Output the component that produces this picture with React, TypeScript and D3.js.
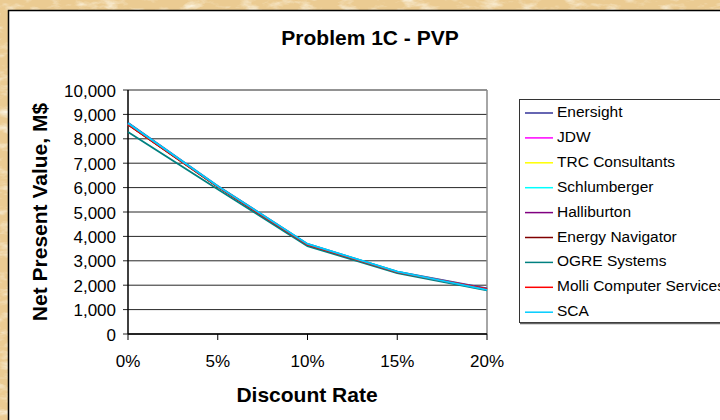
import React from "react";
import * as d3 from "d3";

const rates = [0, 0.05, 0.1, 0.15, 0.2];
const yTicks = [0, 1000, 2000, 3000, 4000, 5000, 6000, 7000, 8000, 9000, 10000];
const xTickLabels = ["0%", "5%", "10%", "15%", "20%"];
const seriesNames = ["Enersight", "JDW", "TRC Consultants", "Schlumberger", "Halliburton", "Energy Navigator", "OGRE Systems", "Molli Computer Services", "SCA"];
const seriesColors = ["#333399", "#FF00FF", "#FFFF00", "#00FFFF", "#800080", "#800000", "#008080", "#FF0000", "#00CCFF"];
const enersight = [8660, 6070, 3690, 2560, 1870];
const jdw = [8600, 6040, 3660, 2540, 1840];
const trc = [8590, 6030, 3650, 2530, 1830];
const schlumberger = [8630, 6060, 3680, 2560, 1830];
const halliburton = [8600, 6040, 3660, 2540, 1840];
const energyNavigator = [8590, 6030, 3650, 2530, 1830];
const ogre = [8280, 5930, 3600, 2500, 1790];
const molli = [8600, 6040, 3660, 2540, 1840];
const sca = [8640, 6060, 3690, 2560, 1810];
const seriesValues = [enersight, jdw, trc, schlumberger, halliburton, energyNavigator, ogre, molli, sca];

const W = 720, H = 420;
const font = "Liberation Sans, Arial, sans-serif";

export default function App() {
  const x = d3.scaleLinear().domain([0, 0.2]).range([128, 487]);
  const y = d3.scaleLinear().domain([0, 10000]).range([334, 90]);
  const line = d3.line<number>().x((_, i) => x(rates[i])).y((v) => y(v));
  return (
    <svg width={W} height={H} style={{ position: "absolute", left: 0, top: 0 }}>
      <defs>
        <filter id="paper" x="0" y="0" width="100%" height="100%">
          <feTurbulence type="fractalNoise" baseFrequency="0.05 0.12" numOctaves="4" seed="7" result="n" />
          <feColorMatrix in="n" type="matrix" values="0 0 0 0 0.98  0 0 0 0 0.93  0 0 0 0 0.80  -2.5 0 0 0 1.3" />
        </filter>
      </defs>
      <rect x={0} y={0} width={W} height={H} fill="#EBCB92" />
      <rect x={0} y={0} width={W} height={H} filter="url(#paper)" opacity={0.9} />
      <rect x={8.5} y={10.5} width={W} height={H} fill="#fff" stroke="#000" strokeWidth={1.5} />
      <text x={370} y={45} textAnchor="middle" fontFamily={font} fontWeight="bold" fontSize={21}>Problem 1C - PVP</text>
      {yTicks.map((t) => (
        <g key={t}>
          <line x1={123} x2={487} y1={y(t)} y2={y(t)} stroke="#000" strokeWidth={1} opacity={0.85} />
          <text x={116} y={y(t) + 6.5} textAnchor="end" fontFamily={font} fontSize={17}>{d3.format(",")(t)}</text>
        </g>
      ))}
      <line x1={487} x2={487} y1={90} y2={334} stroke="#888" strokeWidth={1.5} />
      <line x1={128} x2={128} y1={90} y2={334} stroke="#000" strokeWidth={1.5} />
      <line x1={128} x2={487} y1={334} y2={334} stroke="#000" strokeWidth={1.5} />
      {rates.map((r, i) => (
        <g key={r}>
          <line x1={x(r)} x2={x(r)} y1={334} y2={340} stroke="#000" strokeWidth={1} />
          <text x={x(r)} y={367} textAnchor="middle" fontFamily={font} fontSize={17}>{xTickLabels[i]}</text>
        </g>
      ))}
      {seriesValues.map((vals, i) => (
        <path key={i} d={line(vals) || ""} fill="none" stroke={seriesColors[i]} strokeWidth={1.8} />
      ))}
      <text x={307} y={402} textAnchor="middle" fontFamily={font} fontWeight="bold" fontSize={21}>Discount Rate</text>
      <text transform={`translate(47,212) rotate(-90)`} textAnchor="middle" fontFamily={font} fontWeight="bold" fontSize={21}>Net Present Value, M$</text>
      <rect x={519.5} y={99.5} width={220} height={223} fill="#fff" stroke="#333" strokeWidth={1} />
      <line x1={520} x2={720} y1={323.5} y2={323.5} stroke="#666" strokeWidth={1.5} />
      {seriesNames.map((n, i) => {
        const yy = 117 + i * 24.9;
        return (
          <g key={n}>
            <line x1={525} x2={553} y1={yy - 4} y2={yy - 4} stroke={seriesColors[i]} strokeWidth={1.5} />
            <text x={557} y={yy} fontFamily={font} fontSize={15.5}>{n}</text>
          </g>
        );
      })}
    </svg>
  );
}
